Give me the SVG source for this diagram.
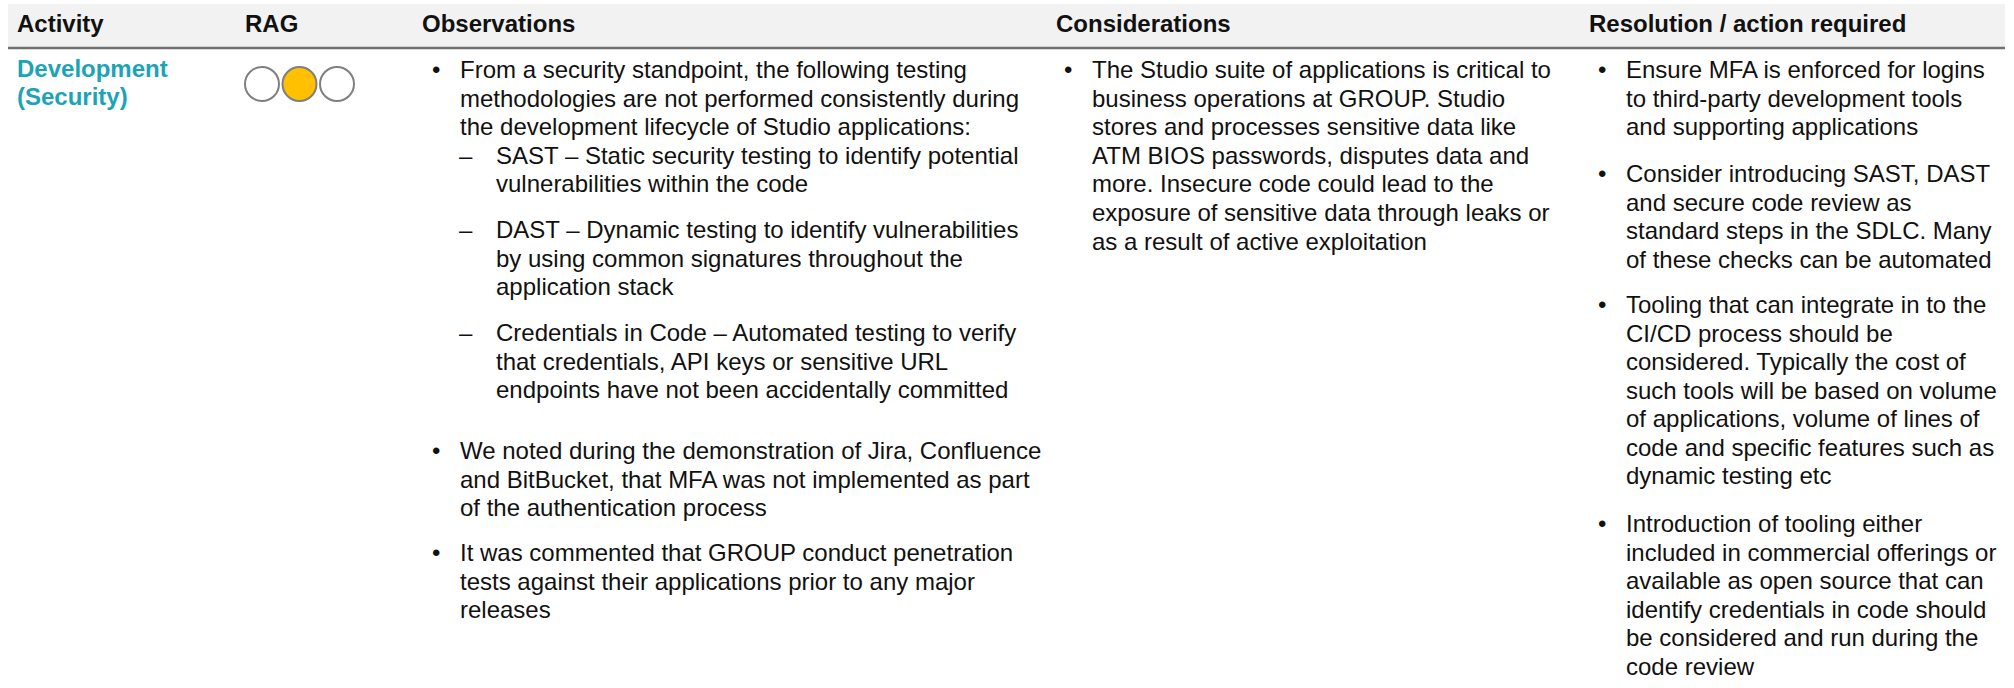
<svg xmlns="http://www.w3.org/2000/svg" width="2014" height="688" viewBox="0 0 2014 688">
<style>
text{font-family:"Liberation Sans",Arial,sans-serif;}
.h{font-size:24px;font-weight:bold;fill:#111;}
.b{font-size:24px;fill:#111;}
.act{font-size:24px;font-weight:bold;fill:#1BA3B6;}
.rag{stroke:#7f7f7f;stroke-width:2;fill:#fff;}
</style>
<rect width="2014" height="688" fill="#fff"/>
<g id="header">
<rect x="8" y="4" width="1997" height="44" fill="#f2f2f2"/>
<line x1="8" y1="48" x2="2005" y2="48" stroke="#707070" stroke-width="2.5"/>
<text class="h" x="17" y="32">Activity</text>
<text class="h" x="245" y="32">RAG</text>
<text class="h" x="422" y="32">Observations</text>
<text class="h" x="1056" y="32">Considerations</text>
<text class="h" x="1589" y="32">Resolution / action required</text>
</g>
<g id="activity">
<text class="act" x="17" y="77">Development</text>
<text class="act" x="17" y="105">(Security)</text>
</g>
<g id="rag">
<circle class="rag" cx="262" cy="84" r="17"/>
<circle class="rag" cx="299.5" cy="84" r="17" style="fill:#FFC000"/>
<circle class="rag" cx="337" cy="84" r="17"/>
</g>
<g id="observations" class="b">
<text x="432" y="78">•</text>
<text x="460" y="78">From a security standpoint, the following testing</text>
<text x="460" y="106.6">methodologies are not performed consistently during</text>
<text x="460" y="135.2">the development lifecycle of Studio applications:</text>
<text x="459" y="163.8">–</text>
<text x="496" y="163.8">SAST – Static security testing to identify potential</text>
<text x="496" y="192.4">vulnerabilities within the code</text>
<text x="459" y="238">–</text>
<text x="496" y="238">DAST – Dynamic testing to identify vulnerabilities</text>
<text x="496" y="266.6">by using common signatures throughout the</text>
<text x="496" y="295.2">application stack</text>
<text x="459" y="341">–</text>
<text x="496" y="341">Credentials in Code – Automated testing to verify</text>
<text x="496" y="369.6">that credentials, API keys or sensitive URL</text>
<text x="496" y="398.2">endpoints have not been accidentally committed</text>
<text x="432" y="459">•</text>
<text x="460" y="459">We noted during the demonstration of Jira, Confluence</text>
<text x="460" y="487.6">and BitBucket, that MFA was not implemented as part</text>
<text x="460" y="516.2">of the authentication process</text>
<text x="432" y="561">•</text>
<text x="460" y="561">It was commented that GROUP conduct penetration</text>
<text x="460" y="589.6">tests against their applications prior to any major</text>
<text x="460" y="618.2">releases</text>
</g>
<g id="considerations" class="b">
<text x="1064" y="78">•</text>
<text x="1092" y="78">The Studio suite of applications is critical to</text>
<text x="1092" y="106.6">business operations at GROUP. Studio</text>
<text x="1092" y="135.2">stores and processes sensitive data like</text>
<text x="1092" y="163.8">ATM BIOS passwords, disputes data and</text>
<text x="1092" y="192.4">more. Insecure code could lead to the</text>
<text x="1092" y="221">exposure of sensitive data through leaks or</text>
<text x="1092" y="249.6">as a result of active exploitation</text>
</g>
<g id="resolution" class="b">
<text x="1598" y="78">•</text>
<text x="1626" y="78">Ensure MFA is enforced for logins</text>
<text x="1626" y="106.5">to third-party development tools</text>
<text x="1626" y="135">and supporting applications</text>
<text x="1598" y="182">•</text>
<text x="1626" y="182">Consider introducing SAST, DAST</text>
<text x="1626" y="210.5">and secure code review as</text>
<text x="1626" y="239">standard steps in the SDLC. Many</text>
<text x="1626" y="267.5">of these checks can be automated</text>
<text x="1598" y="313">•</text>
<text x="1626" y="313">Tooling that can integrate in to the</text>
<text x="1626" y="341.5">CI/CD process should be</text>
<text x="1626" y="370">considered. Typically the cost of</text>
<text x="1626" y="398.5">such tools will be based on volume</text>
<text x="1626" y="427">of applications, volume of lines of</text>
<text x="1626" y="455.5">code and specific features such as</text>
<text x="1626" y="484">dynamic testing etc</text>
<text x="1598" y="532">•</text>
<text x="1626" y="532">Introduction of tooling either</text>
<text x="1626" y="560.5">included in commercial offerings or</text>
<text x="1626" y="589">available as open source that can</text>
<text x="1626" y="617.5">identify credentials in code should</text>
<text x="1626" y="646">be considered and run during the</text>
<text x="1626" y="674.5">code review</text>
</g>
</svg>
